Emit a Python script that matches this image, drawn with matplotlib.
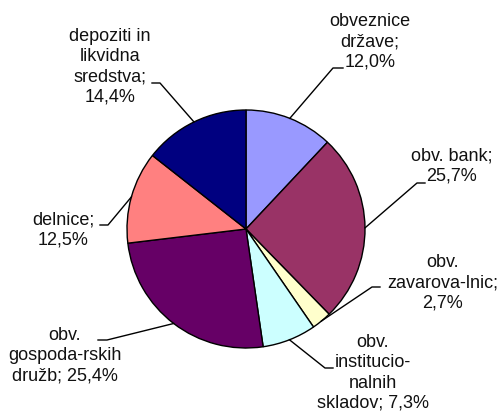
import numpy as np
import matplotlib.pyplot as plt

plt.rcParams['font.family'] = ['Liberation Sans', 'DejaVu Sans']

labels = ["obveznice\ndržave;\n12,0%", "obv. bank;\n25,7%", "obv.\nzavarova-lnic;\n2,7%",
          "obv.\ninstitucio-\nnalnih\nskladov; 7,3%", "obv.\ngospoda-rskih\ndružb; 25,4%",
          "delnice;\n12,5%", "depoziti in\nlikvidna\nsredstva;\n14,4%"]
shares = [12.0, 25.7, 2.7, 7.3, 25.4, 12.5, 14.4]
colors = ["#9999FF", "#993366", "#FFFFCC", "#CCFFFF", "#660066", "#FF8080", "#000080"]

W, H = 503, 412
# label layout in pixel coords: text center, elbow, end of short horizontal
text_pos = [(370, 42), (452, 166), (443, 283), (373, 373), (65, 356), (63, 230), (110, 67)]
elbows = [(333, 68), (417, 183), (372, 287), (325, 368), (107, 340), (108, 225), (160, 83)]
tails = [(343, 68), (425, 183), (380, 287), (333, 368), (98, 340), (100, 225), (152, 83)]

cx, cy, r = 246, H - 229, 119

fig = plt.figure(figsize=(W / 100, H / 100), dpi=100)
ax = fig.add_axes([0, 0, 1, 1])
wedges, _ = ax.pie(shares, colors=colors, startangle=90, counterclock=False,
                   center=(cx, cy), radius=r,
                   wedgeprops=dict(edgecolor="black", linewidth=1))

for w, lab, tp, el, tl in zip(wedges, labels, text_pos, elbows, tails):
    ang = np.deg2rad((w.theta1 + w.theta2) / 2)
    px, py = cx + r * np.cos(ang), cy + r * np.sin(ang)
    ax.plot([px, el[0], tl[0]], [py, H - el[1], H - tl[1]], color="black", lw=1)
    ax.text(tp[0], H - tp[1], lab, ha="center", va="center", multialignment="center",
            fontsize=13, linespacing=1.25, color="#111111")

ax.set_xlim(0, W)
ax.set_ylim(0, H)
ax.set_aspect("equal")
ax.axis("off")
fig.savefig("out.png", dpi=100)
